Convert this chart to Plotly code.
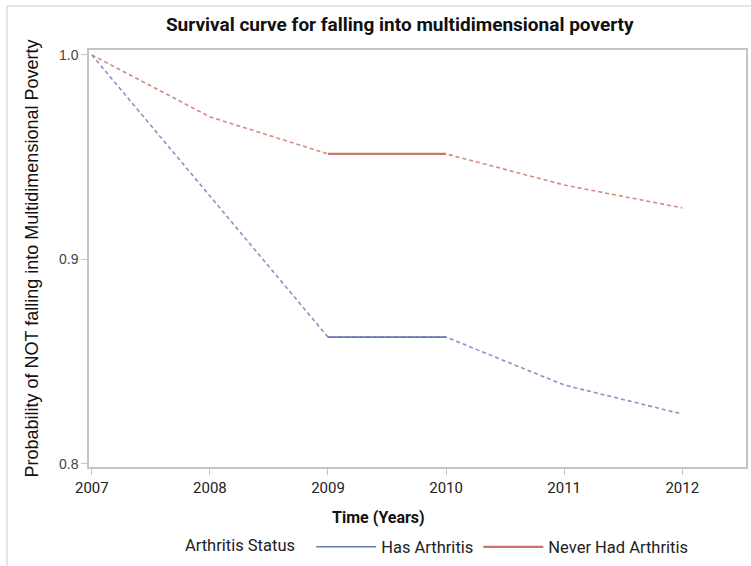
import plotly.graph_objects as go

# Survival estimates by year
years = [2007, 2008, 2009, 2010, 2011, 2012]
has_arthritis = [1.0, 0.931, 0.862, 0.862, 0.8386, 0.8244]
never_arthritis = [1.0, 0.9697, 0.9516, 0.9516, 0.9364, 0.9252]
x_ticks = [2007, 2008, 2009, 2010, 2011, 2012]
y_ticks = [0.8, 0.9, 1.0]

blue = "#6b78b4"
blue_dash = "#8a93c4"
red = "#c8766c"
red_dash = "#d48c80"

narrow = "Liberation Sans Narrow, Roboto, sans-serif"
arial = "Liberation Sans, Arial, sans-serif"

fig = go.Figure()

# Dashed curves through every year
fig.add_trace(go.Scatter(x=years, y=has_arthritis, mode="lines",
                         line=dict(color=blue_dash, width=1.6, dash="4px,3px"),
                         showlegend=False, hoverinfo="skip"))
fig.add_trace(go.Scatter(x=years, y=never_arthritis, mode="lines",
                         line=dict(color=red_dash, width=1.6, dash="4px,3px"),
                         showlegend=False, hoverinfo="skip"))

# Flat segments drawn solid
fig.add_trace(go.Scatter(x=years[2:4], y=has_arthritis[2:4], mode="lines",
                         line=dict(color=blue, width=1.6), name="Has Arthritis"))
fig.add_trace(go.Scatter(x=years[2:4], y=never_arthritis[2:4], mode="lines",
                         line=dict(color=red, width=2.2), name="Never Had Arthritis"))

axis_line = "#c4c4c4"

fig.update_layout(
    width=751, height=566,
    margin=dict(l=89, r=5, t=50, b=99, autoexpand=False),
    paper_bgcolor="white", plot_bgcolor="white",
    title=dict(text="<b>Survival curve for falling into multidimensional poverty</b>",
               x=0.473, xanchor="center", y=0.957, yanchor="middle",
               xref="paper",
               font=dict(family=narrow, size=19, color="#111111")),
    xaxis=dict(range=[2006.976, 2012.54], tickvals=x_ticks,
               ticktext=[str(v) for v in x_ticks],
               showgrid=False, zeroline=False,
               showline=True, mirror=True, linecolor=axis_line, linewidth=1.5,
               ticks="outside", ticklen=6, tickcolor=axis_line, tickwidth=1.3,
               tickfont=dict(family=narrow, size=15, color="#222222")),
    yaxis=dict(range=[0.7985, 1.0024], tickvals=y_ticks,
               ticktext=["0.8", "0.9", "1.0"],
               showgrid=False, zeroline=False,
               showline=True, mirror=True, linecolor=axis_line, linewidth=1.5,
               ticks="outside", ticklen=6, tickcolor=axis_line, tickwidth=1.3,
               tickfont=dict(family=arial, size=14, color="#444444"),
               title=dict(text="Probability of NOT falling into Multidimensional Poverty", standoff=16,
                          font=dict(family=arial, size=18, color="#111111"))),
    legend=dict(orientation="h", x=0.143, xanchor="left", y=-0.192, yanchor="middle",
                title=dict(text="Arthritis Status  ", side="left",
                           font=dict(family=narrow, size=16.5, color="#222222")),
                font=dict(family=narrow, size=16.5, color="#222222"),
                itemwidth=60, tracegroupgap=0, bgcolor="rgba(0,0,0,0)"),
    annotations=[dict(text="<b>Time (Years)</b>", xref="paper", yref="paper",
                      x=(378 - 89) / 657, y=-0.12, xanchor="center", yanchor="middle",
                      showarrow=False,
                      font=dict(family=narrow, size=16, color="#111111"))],
    shapes=[dict(type="rect", xref="paper", yref="paper",
                 x0=-0.1248, x1=1.2, y0=-0.5, y1=1.1055,
                 line=dict(color="#dddddd", width=1.5), fillcolor="rgba(0,0,0,0)",
                 layer="below")],
)

fig.write_html("out.html")
